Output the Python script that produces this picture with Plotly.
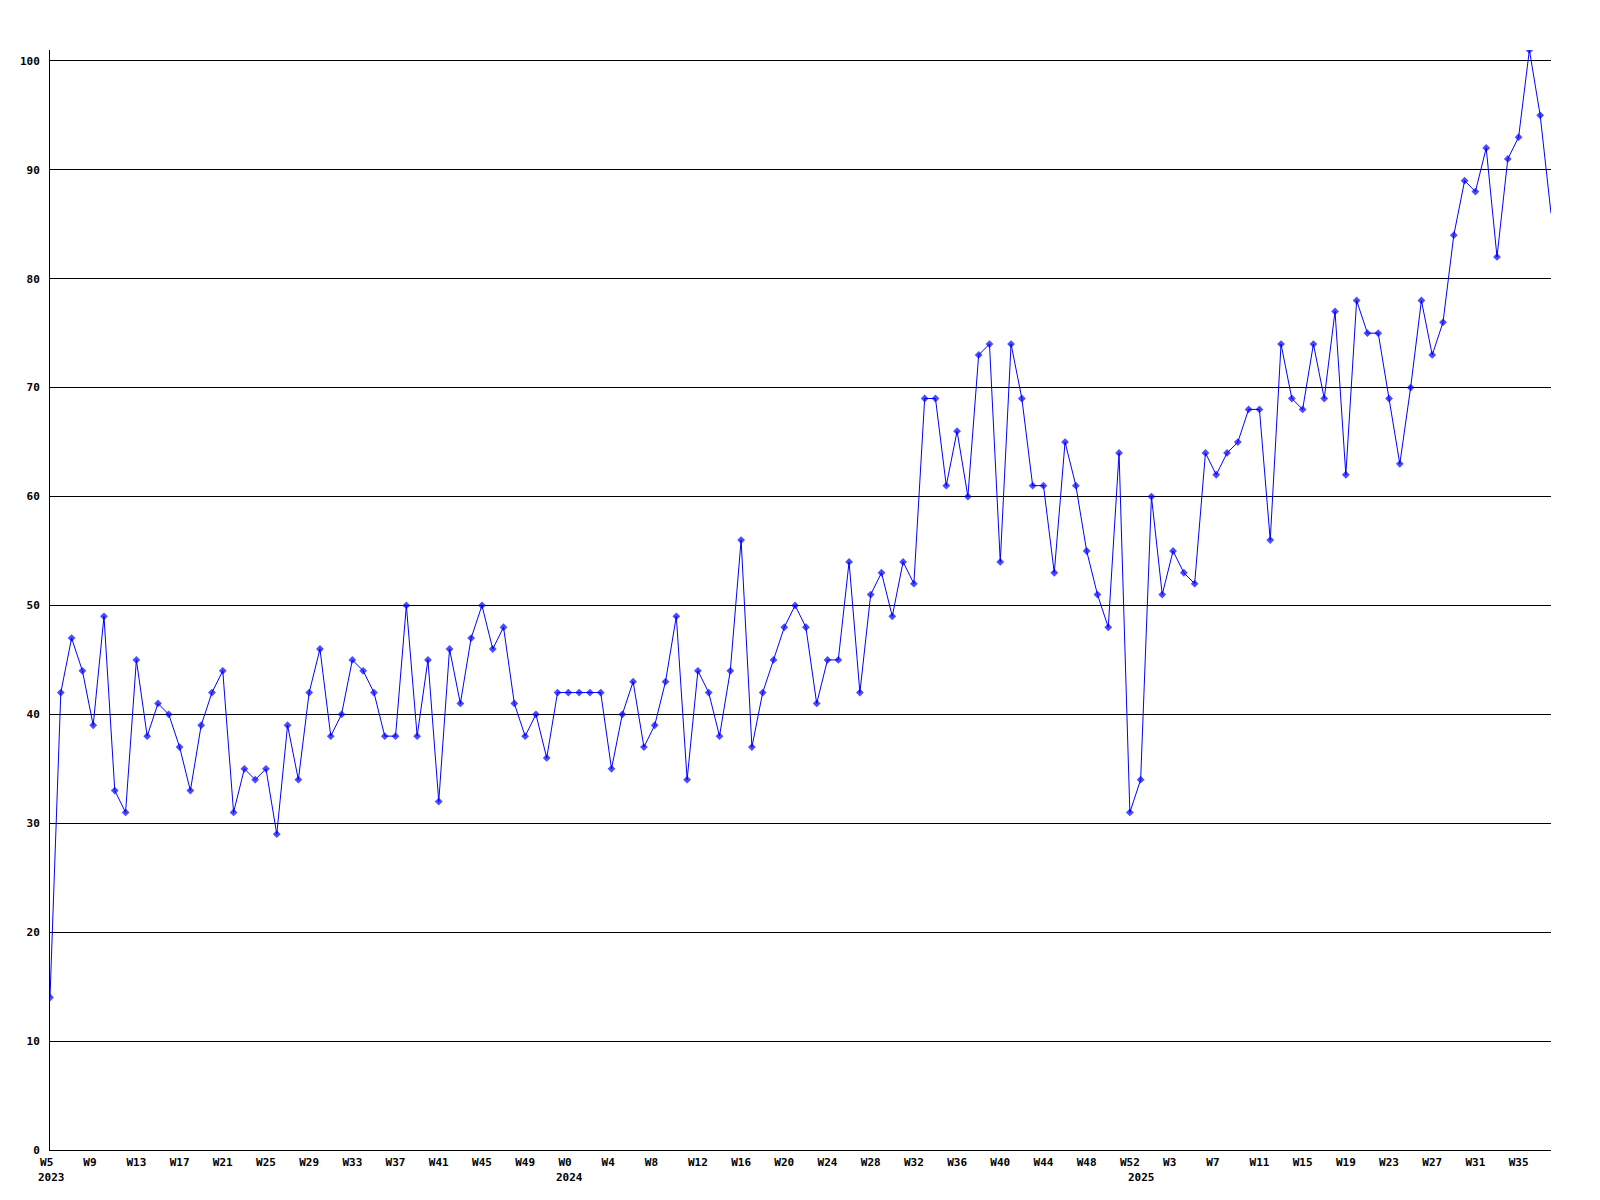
import plotly.graph_objects as go

# ---- data -------------------------------------------------------------
years = [2023, 2024, 2025]
weeks_per_year = {2023: list(range(5, 53)), 2024: list(range(0, 53)), 2025: list(range(0, 39))}

categories = [f"{y}-W{w:02d}" for y in years for w in weeks_per_year[y]]
week_labels = [f"W{w}" for y in years for w in weeks_per_year[y]]

values = [
    14, 42, 47, 44, 39, 49, 33, 31, 45, 38, 41, 40, 37, 33, 39, 42, 44, 31, 35, 34,
    35, 29, 39, 34, 42, 46, 38, 40, 45, 44, 42, 38, 38, 50, 38, 45, 32, 46, 41, 47,
    50, 46, 48, 41, 38, 40, 36, 42, 42, 42, 42, 42, 35, 40, 43, 37, 39, 43, 49, 34,
    44, 42, 38, 44, 56, 37, 42, 45, 48, 50, 48, 41, 45, 45, 54, 42, 51, 53, 49, 54,
    52, 69, 69, 61, 66, 60, 73, 74, 54, 74, 69, 61, 61, 53, 65, 61, 55, 51, 48, 64,
    31, 34, 60, 51, 55, 53, 52, 64, 62, 64, 65, 68, 68, 56, 74, 69, 68, 74, 69, 77,
    62, 78, 75, 75, 69, 63, 70, 78, 73, 76, 84, 89, 88, 92, 82, 91, 93, 101, 95, 86,
]

y_ticks = list(range(0, 101, 10))
tick_step = 4

# ---- figure -----------------------------------------------------------
NBSP = "\u00a0"
FONT = dict(family="DejaVu Sans Mono", size=11, color="black", weight="bold")

x_tickvals = categories[::tick_step]
x_ticktext = [lbl.ljust(3, NBSP) for lbl in week_labels[::tick_step]]
y_ticktext = [str(v).rjust(3, NBSP) for v in y_ticks]

marker_sizes = [6] * (len(values) - 1) + [0]

fig = go.Figure()
fig.add_trace(go.Scatter(
    x=categories, y=values, mode="lines+markers",
    line=dict(color="#0000ff", width=1),
    marker=dict(symbol="diamond", size=marker_sizes, color="#0000ff", line=dict(width=0)),
    hoverinfo="x+y", showlegend=False,
))

# year labels under the first week of each year
annotations = []
for y in years:
    first = next(c for c in categories if c.startswith(str(y)))
    annotations.append(dict(
        x=first, xref="x", y=0, yref="paper", text=str(y), showarrow=False,
        xanchor="left", yanchor="middle", xshift=-13.5, yshift=-27,
        borderpad=0, font=FONT,
    ))

fig.update_layout(
    width=1600, height=1200, autosize=False,
    margin=dict(l=50, r=49, t=50, b=50, pad=0),
    paper_bgcolor="white", plot_bgcolor="white",
    font=FONT,
    annotations=annotations,
    xaxis=dict(
        type="category", range=[0, len(categories) - 1],
        tickmode="array", tickvals=x_tickvals, ticktext=x_ticktext,
        showgrid=False, zeroline=False, showline=True, linecolor="black", linewidth=1,
        ticks="", ticklabelstandoff=2, tickangle=0, tickfont=FONT,
    ),
    yaxis=dict(
        range=[0, 101], tickmode="array", tickvals=y_ticks, ticktext=y_ticktext,
        showgrid=True, gridcolor="black", gridwidth=1,
        zeroline=False, showline=True, linecolor="black", linewidth=1,
        ticks="", ticklabelstandoff=7, tickfont=FONT,
    ),
)

fig.write_html("out.html", config={"displayModeBar": False},
               post_script="document.body.style.margin='0';")
